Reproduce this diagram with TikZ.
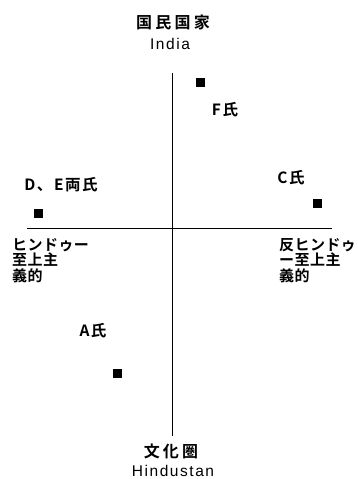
\documentclass[tikz,border=0pt]{standalone}
\usepackage{fontspec}
\setmainfont{Noto Sans CJK JP}[BoldFont={Noto Sans CJK JP Bold}]
\newfontfamily\jpwide{Noto Sans CJK JP Bold}[LetterSpace=20]
\newfontfamily\jppt{Noto Sans CJK JP Bold}[LetterSpace=10]
\newfontfamily\jpmid{Noto Sans CJK JP Bold}[LetterSpace=3]
\newfontfamily\latinf{Liberation Sans}[LetterSpace=10]
\begin{document}
\begin{tikzpicture}[x=1pt,y=-1pt,
  lbl/.style={inner sep=0pt,font=\jpwide\fontsize{16}{16}\selectfont},
  pl/.style={inner sep=0pt,font=\jppt\fontsize{15.5}{16}\selectfont},
  lat/.style={inner sep=0pt,font=\latinf\fontsize{15.5}{16}\selectfont},
  multi/.style={inner sep=0pt,align=left,anchor=north west,font=\jpmid\fontsize{15}{15.5}\selectfont},
  pt/.style={fill=black,minimum size=9pt,inner sep=0pt,draw=none},
  axis/.style={line width=1pt,black}]
\useasboundingbox (0,0) rectangle (357,479);
% axes
\coordinate (vt) at (172,73);
\coordinate (vb) at (172,436);
\coordinate (hl) at (27,228);
\coordinate (hr) at (332,228);
\draw[axis] (vt) -- (vb);
\draw[axis] (hl) -- (hr);
% top / bottom labels
\node[lbl] (top) at (173,22) {国民国家};
\node[lat] (india) at (170,44) {India};
\node[lbl] (bot) at (171,451) {文化圏};
\node[lat] (hind) at (173,470.5) {Hindustan};
% left / right labels
\node[multi] (left) at (12,238) {ヒンドゥー\\至上主\\義的};
\node[multi] (right) at (279,238) {反ヒンドゥ\\ー至上主\\義的};
% points
\node[pt] (F) at (200,82) {};
\node[pl] (Fl) at (225,110) {F氏};
\node[pt] (DE) at (38,213) {};
\node[pl] (DEl) at (61,185) {D、E両氏};
\node[pt] (C) at (317,203) {};
\node[pl] (Cl) at (291,178) {C氏};
\node[pt] (A) at (117,373) {};
\node[pl] (Al) at (93,331) {A氏};
\end{tikzpicture}
\end{document}
